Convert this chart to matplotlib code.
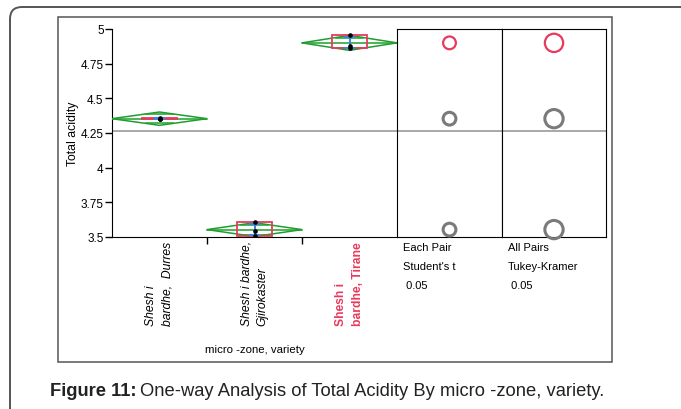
import numpy as np
import matplotlib
matplotlib.use('Agg')
import matplotlib.pyplot as plt
import matplotlib.transforms as mtransforms
from matplotlib.patches import Rectangle, Polygon, Ellipse, FancyBboxPatch

plt.rcParams['font.family'] = ['Liberation Sans', 'DejaVu Sans']

# values
groups = ['Shesh i\nbardhe,  Durres', 'Shesh i bardhe,\nGjirokaster', 'Shesh i\nbardhe, Tirane']
points = [[4.35, 4.35, 4.36], [3.51, 3.54, 3.61], [4.86, 4.88, 4.96]]
diamond_half = [0.048, 0.05, 0.054]
err_half = [0.004, 0.04, 0.04]
grand_mean = 4.267
student_r = 0.046
tukey_r = 0.066
highlight = 2
yticks = [3.5, 3.75, 4, 4.25, 4.5, 4.75, 5]
ytick_labels = ['3.5', '3.75', '4', '4.25', '4.5', '4.75', '5']
panel_text = [['Each Pair', "Student's t", ' 0.05'], ['All Pairs', 'Tukey-Kramer', ' 0.05']]

GREEN = '#1f9e2e'
RED = '#e83a5c'
BLUE = '#3a86e0'
GRAY = '#7a7a7a'

W, H = 681, 410
fig = plt.figure(figsize=(W / 100, H / 100), dpi=100)


def px(x0, y0, x1, y1):
    return [x0 / W, 1 - y1 / H, (x1 - x0) / W, (y1 - y0) / H]


# page frame and picture frame
fig.patches.append(FancyBboxPatch((0.10, -0.5), 7.5, 4.52, boxstyle='round,pad=0,rounding_size=0.12',
                                  transform=fig.dpi_scale_trans, fill=False, ec='#555555', lw=1.4))
fig.patches.append(Rectangle((58 / W, 1 - 363 / H), (612 - 58) / W, (363 - 18) / H,
                             transform=fig.transFigure, fill=False, ec='#555555', lw=1.1))

ax = fig.add_axes(px(112, 30, 397, 238))
ax.set_xlim(0, 3)
ax.set_ylim(3.5, 5)
for s in ['top', 'right']:
    ax.spines[s].set_visible(False)
ax.set_yticks(yticks)
ax.set_yticklabels(ytick_labels, fontsize=8.5)
ax.set_xticks([1, 2])
ax.set_xticklabels([])
ax.tick_params(length=5, width=1, pad=1)
ax.set_ylabel('Total acidity', fontsize=8.8, labelpad=1)
ax.axhline(grand_mean, color='#9a9a9a', lw=1.2, zorder=1)

for i, pts in enumerate(points):
    c = i + 0.5
    m = np.mean(pts)
    d = diamond_half[i]
    ax.add_patch(Polygon([[i, m], [c, m + d], [i + 1, m], [c, m - d]], closed=True,
                         fill=False, ec=GREEN, lw=1.1, zorder=3))
    ax.plot([i, i + 1], [m, m], color=GREEN, lw=1.1, zorder=3)
    o = d / np.sqrt(2)
    hw = 0.5 * (1 - 1 / np.sqrt(2))
    for yy in [m + o, m - o]:
        ax.plot([c - hw, c + hw], [yy, yy], color=GREEN, lw=1.1, zorder=3)
    lo, hi = min(pts), max(pts)
    ax.add_patch(Rectangle((c - 0.18, lo), 0.36, hi - lo, fill=False, ec=RED, lw=1.3, zorder=4))
    e = err_half[i]
    ax.plot([c, c], [m - e, m + e], color=BLUE, lw=1.5, zorder=5)
    for yy in [m - e, m + e]:
        ax.plot([c - 0.05, c + 0.05], [yy, yy], color=BLUE, lw=1.5, zorder=5)
    ax.plot([c] * len(pts), pts, 'o', color='black', ms=2.3, zorder=6)

trans = mtransforms.blended_transform_factory(ax.transData, ax.transAxes)
for i, g in enumerate(groups):
    if i == highlight:
        kw = dict(color=RED, fontweight='bold')
    else:
        kw = dict(color='black', style='italic')
    ax.text(i + 0.5, -0.425, g, transform=trans, rotation=90, ha='center', va='bottom',
            multialignment='left', fontsize=8.7, linespacing=1.5, **kw)
ax.text(0.5, -0.54, 'micro -zone, variety', transform=ax.transAxes, ha='center', va='center', fontsize=8.2)

# comparison circle panels
for k, (x0, x1) in enumerate([(397, 502), (502, 606)]):
    axp = fig.add_axes(px(x0, 30, x1, 238))
    axp.set_xlim(0, 1)
    axp.set_ylim(3.5, 5)
    axp.set_xticks([])
    axp.set_yticks([])
    axp.axhline(grand_mean, color='#9a9a9a', lw=1.2, zorder=1)
    r = student_r if k == 0 else tukey_r
    pw, ph = x1 - x0, 208
    for i, pts in enumerate(points):
        m = np.mean(pts)
        col = RED if i == highlight else GRAY
        lw = 1.6 if i == highlight else 2.2
        axp.add_patch(Ellipse((0.5, m), 2 * r * (ph / 1.5) / pw, 2 * r, fill=False,
                              ec=col, lw=lw, zorder=3, clip_on=False))
    for j, t in enumerate(panel_text[k]):
        axp.text(0.055, -0.05 - j * 0.09, t, transform=axp.transAxes, ha='left', va='center', fontsize=8)

cap1 = fig.text(50 / W, 1 - 392 / H, 'Figure 11:', fontsize=13.2, fontweight='bold', color='#222222', va='center')
fig.canvas.draw()
bb = cap1.get_window_extent()
fig.text((bb.x1 + 4) / W, 1 - 392 / H, 'One-way Analysis of Total Acidity By micro -zone, variety.',
         fontsize=13.2, color='#222222', va='center')

fig.savefig('out.png', dpi=100)
